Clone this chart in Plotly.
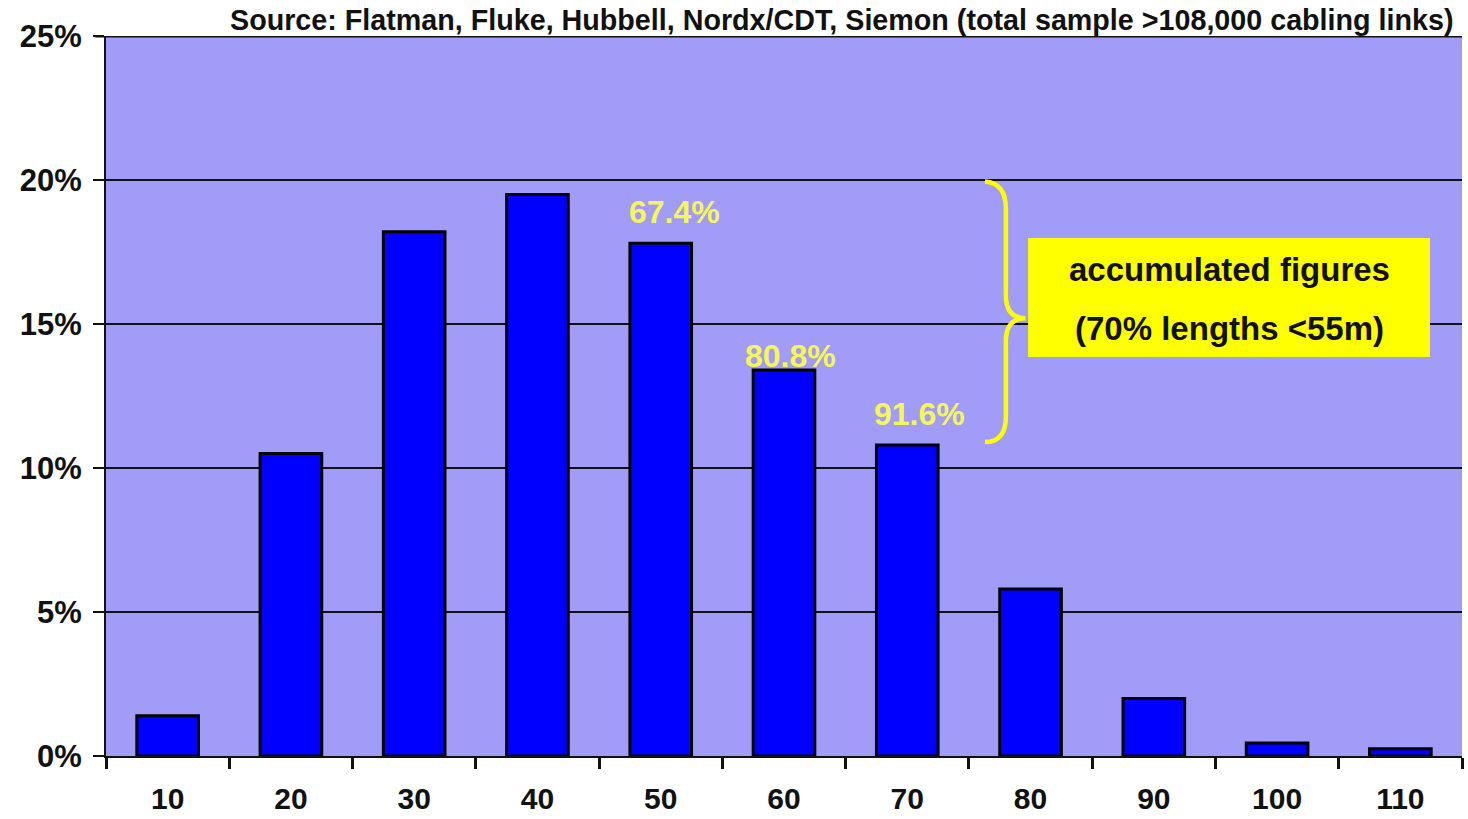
import plotly.graph_objects as go

# Cable link length distribution (metres, share of links in %)
lengths = [10, 20, 30, 40, 50, 60, 70, 80, 90, 100, 110]
share_pct = [1.4, 10.5, 18.2, 19.5, 17.8, 13.4, 10.8, 5.8, 2.0, 0.45, 0.25]
y_ticks = [0, 5, 10, 15, 20, 25]
source_note = "Source: Flatman, Fluke, Hubbell, Nordx/CDT, Siemon (total sample >108,000 cabling links)"
box_lines = ["accumulated figures", "(70% lengths <55m)"]
cumulative_marks = [50, 60, 70]

FONT = "Liberation Sans, Arial, sans-serif"
PLOT_BG = "#A09CF8"
YELLOW = "#FFFF00"
LABEL_YELLOW = "#F6F65A"

fig = go.Figure()
fig.add_trace(go.Bar(
    x=lengths,
    y=share_pct,
    width=5,
    marker=dict(color="#0000FF", line=dict(color="#000000", width=3)),
    showlegend=False,
    hoverinfo="x+y",
))

# Running totals printed above selected bars
running = 0.0
cum = {}
for L, v in zip(lengths, share_pct):
    running += v
    cum[L] = running

# label centre relative to the bar (x shift in metres, y shift in %)
label_offsets = {50: (1.15, 1.1), 60: (0.5, 0.5), 70: (1.0, 1.08)}
for L in cumulative_marks:
    dx, dy = label_offsets[L]
    idx = lengths.index(L)
    fig.add_annotation(
        x=L + dx, y=share_pct[idx] + dy, xref="x", yref="y",
        text=f"{cum[L]:.1f}%", showarrow=False,
        font=dict(family=FONT, size=32, color=LABEL_YELLOW, weight="bold"),
        xanchor="center", yanchor="middle",
    )

# Curly brace pointing at the explanation box
brace = ("M 76.3,19.95 Q 78.0,19.9 78.0,19.0 L 78.0,16.0 "
         "Q 78.0,15.2 79.6,15.2 Q 78.0,15.2 78.0,14.4 "
         "L 78.0,11.8 Q 78.0,10.9 76.3,10.9")
fig.add_shape(type="path", path=brace, xref="x", yref="y",
              line=dict(color=YELLOW, width=4.5))

# Yellow explanation box
fig.add_shape(type="rect", xref="x", yref="y",
              x0=79.8, x1=112.4, y0=13.85, y1=17.99,
              fillcolor=YELLOW, line=dict(width=0), layer="above")
for text, yv in zip(box_lines, [16.88, 14.86]):
    fig.add_annotation(
        x=96.1, y=yv, xref="x", yref="y", text=text, showarrow=False,
        font=dict(family=FONT, size=33, color="#111111", weight="bold"),
        xanchor="center", yanchor="middle",
    )

# Heavy top border of the plot area
fig.add_shape(type="line", xref="paper", yref="y", x0=-0.008, x1=1.0, y0=25, y1=25,
              line=dict(color="#111111", width=3), layer="above")

fig.add_annotation(
    x=1.0, y=1.0, xref="paper", yref="paper", text=source_note, showarrow=False,
    xanchor="right", yanchor="middle", xshift=-6, yshift=16,
    font=dict(family=FONT, size=28.7, color="#111111", weight="bold"),
)

fig.update_layout(
    width=1468, height=819,
    margin=dict(l=106, r=6, t=36, b=63, autoexpand=False),
    paper_bgcolor="#FFFFFF",
    plot_bgcolor=PLOT_BG,
    bargap=0.5,
    font=dict(family=FONT, color="#111111"),
)
fig.update_xaxes(
    range=[5, 115],
    automargin=False,
    tickvals=lengths,
    ticktext=[str(v) for v in lengths],
    ticks="",
    ticklabelstandoff=15,
    tickfont=dict(family=FONT, size=30, color="#111111", weight="bold"),
    showgrid=False,
    showline=True, linecolor="#111111", linewidth=2,
    minor=dict(ticks="outside", tick0=5, dtick=10, ticklen=11,
               tickwidth=3, tickcolor="#111111", showgrid=False),
    zeroline=False,
)
fig.update_yaxes(
    range=[0, 25],
    automargin=False,
    tickvals=y_ticks,
    ticktext=[f"{v}%" for v in y_ticks],
    ticks="outside", ticklen=11, tickwidth=1.5, tickcolor="#111111",
    ticklabelstandoff=5,
    tickfont=dict(family=FONT, size=31, color="#111111", weight="bold"),
    showgrid=True, gridcolor="#111111", gridwidth=1.5,
    showline=True, linecolor="#111111", linewidth=2,
    zeroline=False,
)

fig.write_html("out.html")
